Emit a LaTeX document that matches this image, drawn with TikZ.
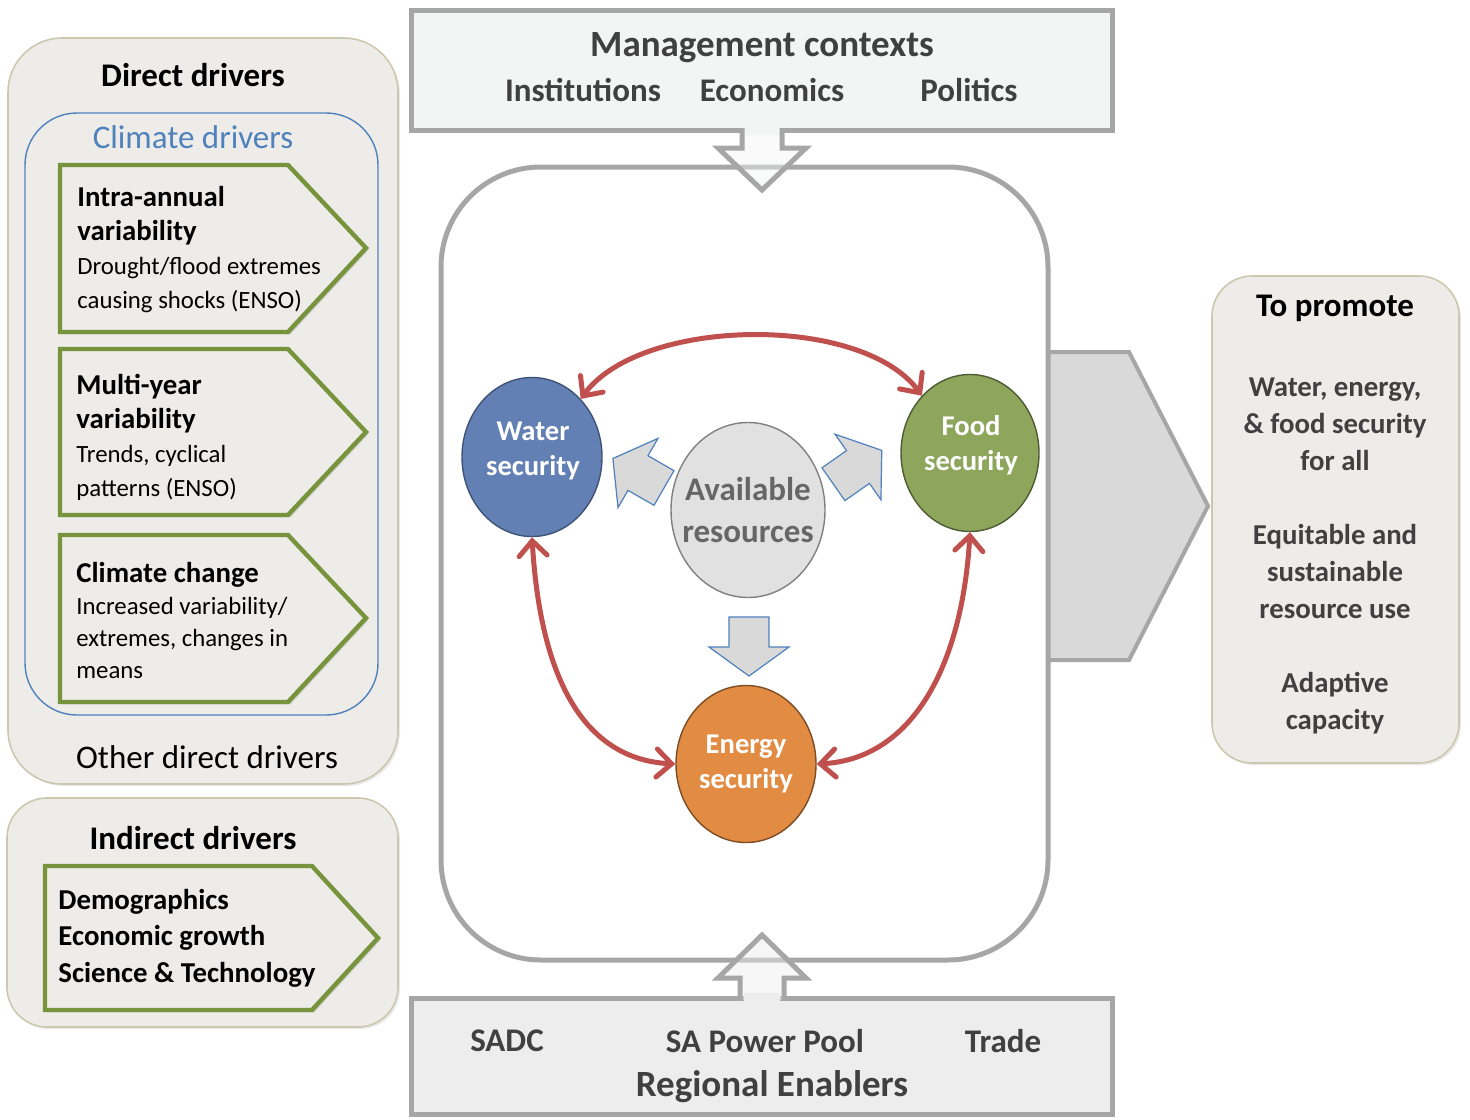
\documentclass[tikz,border=0pt]{standalone}
\usepackage{fontspec}
\setmainfont{Carlito}
\usepackage{tikz}
\usetikzlibrary{arrows.meta,shapes.geometric,shadows,positioning}
\definecolor{panelfill}{RGB}{238,236,232}
\definecolor{paneledge}{RGB}{204,200,176}
\definecolor{climblue}{RGB}{79,129,189}
\definecolor{drvgreen}{RGB}{119,147,60}
\definecolor{ctxfill}{RGB}{243,245,245}
\definecolor{enafill}{RGB}{237,237,237}
\definecolor{ctxedge}{RGB}{166,166,166}
\definecolor{darktext}{RGB}{64,64,64}
\definecolor{linkred}{RGB}{192,80,77}
\definecolor{waterblue}{RGB}{98,128,180}
\definecolor{foodgreen}{RGB}{141,166,92}
\definecolor{energyorange}{RGB}{226,139,66}
\definecolor{resgray}{RGB}{225,225,225}
\definecolor{arrgray}{RGB}{217,217,217}
\newcommand{\hdfont}   {\fontsize{16.5}{20}\selectfont}
\newcommand{\subfont}  {\fontsize{14.4}{17}\selectfont\bfseries}
\newcommand{\bodyfont} {\fontsize{12.4}{17}\selectfont\mdseries}
\newcommand{\bigfont}  {\fontsize{18.5}{22}\selectfont\bfseries}

\tikzset{blockarr/.pic={
  \draw[fill=arrgray,draw=climblue,line width=0.6pt,line join=miter]
    (-30,-20) -- (0,-20) -- (0,-40) -- (29,0) -- (0,40) -- (0,20) -- (-30,20) -- cycle;}}

\begin{document}
\begin{tikzpicture}[x=0.5pt,y=-0.5pt,
   panel/.style={draw=paneledge,fill=panelfill,line width=0.8pt,
     drop shadow={opacity=0.18,shadow xshift=1pt,shadow yshift=-1pt}},
   drvarrow/.style={draw=drvgreen,fill=panelfill,line width=2.2pt,line join=miter,
     drop shadow={opacity=0.25,shadow xshift=1.2pt,shadow yshift=-1.2pt}},
   drvtext/.style={anchor=west,align=left,inner sep=0pt,font=\bodyfont},
   ctxbox/.style={draw=ctxedge,line width=2.5pt,
     drop shadow={opacity=0.3,shadow xshift=1pt,shadow yshift=-1pt}},
   ctxarrow/.style={draw=ctxedge,line width=2.5pt,line join=miter,fill opacity=0.45},
   ctxtext/.style={text=darktext,font=\hdfont\bfseries,inner sep=0pt},
   sec/.style={ellipse,line width=0.7pt,text=white,align=center,inner sep=0pt,
     font=\fontsize{14.3}{17.5}\selectfont\bfseries},
   link/.style={draw=linkred,line width=2.5pt,line cap=round,<->,
     >={Straight Barb[length=7.5pt,width=14pt,line cap=round]}}]
  \useasboundingbox (0,0) rectangle (1470,1119);

  % drivers on the left
  \draw[panel,rounded corners=27pt] (8,38) rectangle (398,784);
  \draw[climblue,fill=panelfill,line width=0.7pt,rounded corners=26pt] (25,113) rectangle (378,715);
  \draw[drvarrow] (60,165) -- (288,165) -- (366,248) -- (288,332) -- (60,332) -- cycle;
  \draw[drvarrow] (60,349) -- (288,349) -- (366,432) -- (288,515) -- (60,515) -- cycle;
  \draw[drvarrow] (60,535) -- (288,535) -- (366,618) -- (288,702) -- (60,702) -- cycle;
  \node[font=\hdfont\bfseries] (direct) at (193,75) {Direct drivers};
  \node[font=\hdfont,text=climblue] (climate) at (193,137) {Climate drivers};
  \node[drvtext] (intra) at (77,250) {\subfont Intra-annual\\ \subfont variability\\
    Drought/flood extremes\\ causing shocks (ENSO)};
  \node[drvtext] (multi) at (76,437) {\subfont Multi-year\\ \subfont variability\\
    Trends, cyclical\\ patterns (ENSO)};
  \node[drvtext,font=\fontsize{12.4}{16}\selectfont] (change) at (76,620) {\subfont Climate change\\
    Increased variability/\\ extremes, changes in\\ means};
  \node[font=\hdfont] (other) at (207,757) {Other direct drivers};

  \draw[panel,rounded corners=20pt] (7,798) rectangle (398,1027);
  \draw[drvarrow] (45,866) -- (312,866) -- (378,938) -- (312,1010) -- (45,1010) -- cycle;
  \node[font=\hdfont\bfseries] (indirect) at (193,838) {Indirect drivers};
  \node[drvtext,font=\fontsize{14.4}{18.2}\selectfont\bfseries] (socio) at (58,938)
    {Demographics\\ Economic growth\\ Science \& Technology};

  % nexus in the middle
  \draw[draw=ctxedge,fill=arrgray,line width=2pt,line join=miter]
    (1048,352) -- (1129,352) -- (1208,506) -- (1129,660) -- (1048,660);
  \draw[draw=ctxedge,fill=white,line width=2.5pt,rounded corners=50pt] (441,167) rectangle (1048,960);

  \draw[ctxbox,fill=ctxfill] (411,10) rectangle (1112,130);
  \draw[ctxbox,fill=enafill] (411,998) rectangle (1112,1114);
  \fill[ctxfill] (744,125) rectangle (780,135);
  \fill[enafill] (744,993) rectangle (780,1004);
  \draw[ctxarrow,fill=ctxfill] (742,128) -- (742,148) -- (718,148) -- (762,190) -- (806,148) -- (782,148) -- (782,128);
  \draw[ctxarrow,fill=enafill] (740,1000) -- (740,978) -- (718,978) -- (762,935) -- (806,978) -- (784,978) -- (784,1000);

  \node[ctxtext,font=\bigfont] (mgmt) at (762,48) {Management contexts};
  \node[ctxtext] (inst) at (583,90) {Institutions};
  \node[ctxtext] (econ) at (772,90) {Economics};
  \node[ctxtext] (poli) at (969,90) {Politics};
  \node[ctxtext] (sadc) at (507,1041) {SADC};
  \node[ctxtext] (sapp) at (765,1041) {SA Power Pool};
  \node[ctxtext] (trade) at (1003,1041) {Trade};
  \node[ctxtext,font=\bigfont] (regen) at (772,1087) {Regional Enablers};

  \node[sec,fill=waterblue,draw=waterblue!65!black,minimum width=70pt,minimum height=79.5pt]
    (water) at (532,457) {};
  \node[sec,fill=foodgreen,draw=foodgreen!55!black,minimum width=69pt,minimum height=78.5pt]
    (food) at (970,453) {};
  \node[sec,fill=energyorange,draw=energyorange!55!black,minimum width=70pt,minimum height=78.5pt]
    (energy) at (746,764) {Energy\\ security};
  \node[sec,fill=resgray,draw=gray,minimum width=77pt,minimum height=87.5pt] (res) at (748,510) {};
  \node[sec,draw=none] (watertext) at (533,451) {Water\\ security};
  \node[sec,draw=none] (foodtext) at (971,445) {Food\\ security};
  \node[align=center,text=darktext!80,font=\fontsize{16.5}{21}\selectfont\bfseries]
    (restext) at (res) {Available\\ resources};

  \pic[rotate=150] at (638,473) {blockarr};
  \pic[rotate=35] at (858,467) {blockarr};
  \pic[rotate=-90] at (749,647) {blockarr};

  \draw[link] (water.50) .. controls +(60,-82) and +(-60,-82) .. (food.130);
  \draw[link] (water.south) .. controls +(8,135) and +(-95,-5) .. (energy.west);
  \draw[link] (food.south) .. controls +(-8,135) and +(95,-5) .. (energy.east);

  % outcomes on the right
  \draw[panel,rounded corners=20pt] (1212,276) rectangle (1459,763);
  \node[font=\hdfont\bfseries] (promote) at (1335,308) {To promote};
  \node[align=center,text=darktext,font=\fontsize{14.4}{18.5}\selectfont\bfseries] (goals) at (1335,556)
    {Water, energy,\\ \& food security\\ for all\\[18.5pt] Equitable and\\ sustainable\\
     resource use\\[18.5pt] Adaptive\\ capacity};
\end{tikzpicture}
\end{document}
